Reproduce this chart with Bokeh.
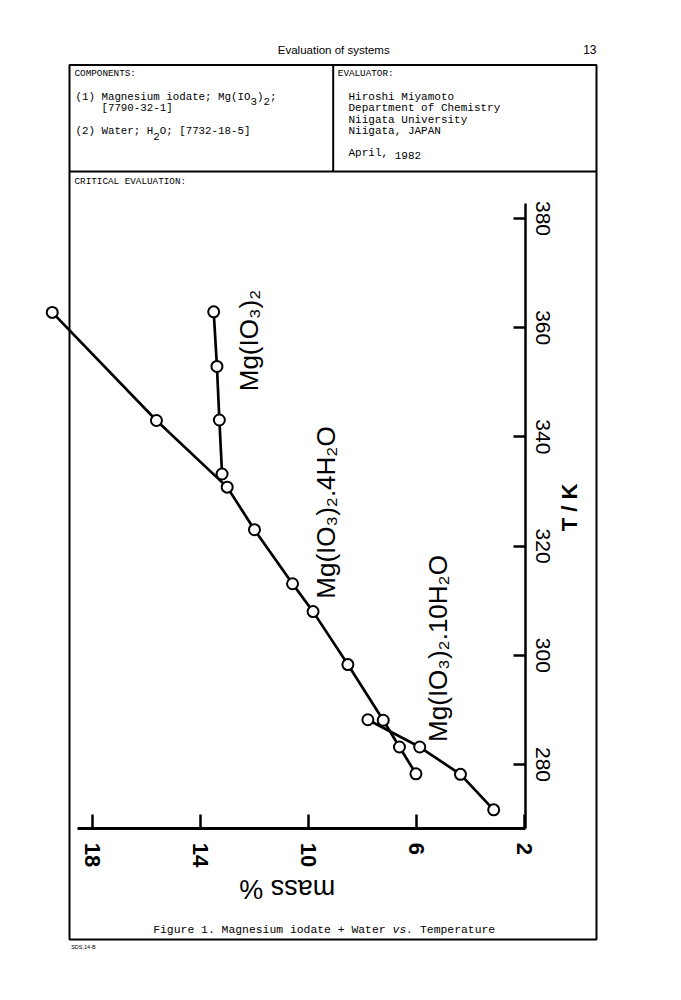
import math
from bokeh.plotting import figure
from bokeh.models import LinearAxis, FixedTicker, Range1d
from bokeh.core.properties import value
from bokeh.embed import file_html
from bokeh.resources import INLINE

# ---------------- data ----------------
# Mg(IO3)2.4H2O branch (continuing as the long curve)
T_4h = [362.8, 343.0, 330.8, 323.0, 313.1, 308.0, 298.3, 288.1, 283.2, 278.3]
w_4h = [19.48, 15.62, 13.00, 11.99, 10.58, 9.82, 8.53, 7.22, 6.62, 6.01]
# anhydrous Mg(IO3)2 branch
T_anh = [333.2, 343.1, 352.9, 362.9]
w_anh = [13.19, 13.29, 13.38, 13.50]
# Mg(IO3)2.10H2O branch
T_10h = [288.2, 283.2, 278.2, 271.7]
w_10h = [7.79, 5.87, 4.36, 3.13]

mass_ticks = [18, 14, 10, 6, 2]
T_ticks = [280, 300, 320, 340, 360, 380]

label_anh = "Mg(IO₃)₂"
label_4h = "Mg(IO₃)₂.4H₂O"
label_10h = "Mg(IO₃)₂.10H₂O"

# ---------------- page geometry ----------------
W, H = 665, 960
PX0, PY0 = 0, 0            # canvas origin on the page
X18, PPM = 91.7, 27.0      # page x of 18 mass %, pixels per mass %
Y280, PPK = 764.0, 5.46    # page y of 280 K, pixels per K


def mx(X):
    return 18 - (X - X18) / PPM


def ty(Y):
    return 280 + (Y280 - Y) / PPK


p = figure(width=W, height=H,
           x_range=Range1d(mx(PX0), mx(PX0 + W)),
           y_range=Range1d(ty(PY0 + H), ty(PY0)),
           x_axis_type=None, y_axis_type=None,
           toolbar_location=None, output_backend="svg",
           min_border=0)
p.min_border_left = p.min_border_right = p.min_border_top = p.min_border_bottom = 0
p.outline_line_color = None
p.background_fill_color = "white"
p.border_fill_color = "white"
p.extra_x_ranges = {"px": Range1d(PX0, PX0 + W)}
p.extra_y_ranges = {"px": Range1d(PY0 + H, PY0)}

PX = dict(x_range_name="px", y_range_name="px")


def txt(x, y, s, size, font="Liberation Mono", style="normal", align="left",
        angle=0.0, px=True, baseline="middle"):
    kw = PX if px else {}
    p.text(x=[x], y=[y], text=[s], text_font=value(font),
           text_font_size=f"{size}px", text_font_style=style,
           text_align=align, text_baseline=baseline, angle=angle,
           text_color="black", **kw)


# ---------------- page frame / boxes ----------------
BL, BR, BT, BB = 69, 596, 64.5, 939
p.quad(left=[BL], right=[BR], top=[BT], bottom=[BB], fill_color=None,
       line_color="black", line_width=2, **PX)
p.segment(x0=[BL, 332.7], y0=[171, BT], x1=[BR, 332.7], y1=[171, 171],
          line_color="black", line_width=2, **PX)

# running head
txt(277.3, 49.5, "Evaluation of systems", 11.5, font="Liberation Sans")
txt(596, 48.5, "13", 12, font="Liberation Sans", align="right")

# header: components
CW = 10.8 * 0.6
txt(74, 73.3, "COMPONENTS:", 9.3)
x1 = 75
txt(x1, 96, "(1) Magnesium iodate; Mg(IO", 10.8)
txt(x1 + 27 * CW, 100.7, "3", 10.8)
txt(x1 + 28 * CW, 96, ")", 10.8)
txt(x1 + 29 * CW, 100.7, "2", 10.8)
txt(x1 + 30 * CW, 96, ";", 10.8)
txt(x1 + 4 * CW, 107.7, "[7790-32-1]", 10.8)
txt(x1, 130.7, "(2) Water; H", 10.8)
txt(x1 + 12 * CW, 136, "2", 10.8)
txt(x1 + 13 * CW, 130.7, "O; [7732-18-5]", 10.8)

# header: evaluator
txt(337.3, 73.3, "EVALUATOR:", 9.3)
for yy, s in zip([96, 107.7, 119.3, 130.7],
                 ["Hiroshi Miyamoto", "Department of Chemistry",
                  "Niigata University", "Niigata, JAPAN"]):
    txt(348, yy, s, 11)
txt(348, 152.3, "April,", 11)
txt(348 + 7 * 6.6, 154.5, "1982", 11)

txt(74, 181, "CRITICAL EVALUATION:", 9.3)

# caption
CC = 11.4 * 0.6
cx = 152.7
txt(cx, 929.3, "Figure 1. Magnesium iodate + Water", 11.4)
txt(cx + 35 * CC, 929.3, "vs.", 11.4, style="italic")
txt(cx + 39 * CC, 929.3, "Temperature", 11.4)
txt(70.7, 946, "SDS,14-B", 5.5, font="Liberation Sans")

# ---------------- chart ----------------
p.line(w_4h, T_4h, line_color="black", line_width=2.7)
p.line(w_anh, T_anh, line_color="black", line_width=2.7)
p.line(w_10h, T_10h, line_color="black", line_width=2.7)
for xs, ys in [(w_4h, T_4h), (w_anh, T_anh), (w_10h, T_10h)]:
    p.scatter(xs, ys, marker="circle", size=11, fill_color="white",
              line_color="black", line_width=2)

# curve labels (rotated like the original page)
txt(mx(248), ty(340), label_anh, 26, font="Liberation Sans",
    align="center", angle=math.pi / 2, px=False)
txt(mx(325), ty(512), label_4h, 26, font="Liberation Sans",
    align="center", angle=math.pi / 2, px=False)
txt(mx(437), ty(648), label_10h, 26, font="Liberation Sans",
    align="center", angle=math.pi / 2, px=False)

# axes
xax = LinearAxis(fixed_location=ty(828.3), bounds=(mx(525), mx(77.3)),
                 ticker=FixedTicker(ticks=mass_ticks),
                 major_tick_in=14, major_tick_out=0,
                 minor_tick_line_color=None,
                 axis_line_width=3, major_tick_line_width=2.5,
                 major_label_orientation="vertical",
                 major_label_standoff=14,
                 major_label_text_font="Liberation Sans",
                 major_label_text_font_size="22px",
                 major_label_text_font_style="bold",
                 major_label_text_color="black")
yax = LinearAxis(fixed_location=mx(525), bounds=(ty(828.3), ty(203)),
                 ticker=FixedTicker(ticks=T_ticks),
                 major_tick_in=12, major_tick_out=0,
                 minor_tick_line_color=None,
                 axis_line_width=2.5, major_tick_line_width=2.5,
                 major_label_orientation="vertical",
                 major_label_standoff=10,
                 major_label_text_font="Liberation Sans",
                 major_label_text_font_size="21px",
                 major_label_text_color="black")
p.add_layout(xax, "below")
p.add_layout(yax, "right")

txt(286.7, 888.3, "mass %", 27, font="Liberation Sans",
    align="center", angle=math.pi)
txt(569, 507, "T / K", 22, font="Liberation Sans", style="bold",
    align="center", angle=math.pi / 2)

open("out.html", "w").write(file_html(p, INLINE))
